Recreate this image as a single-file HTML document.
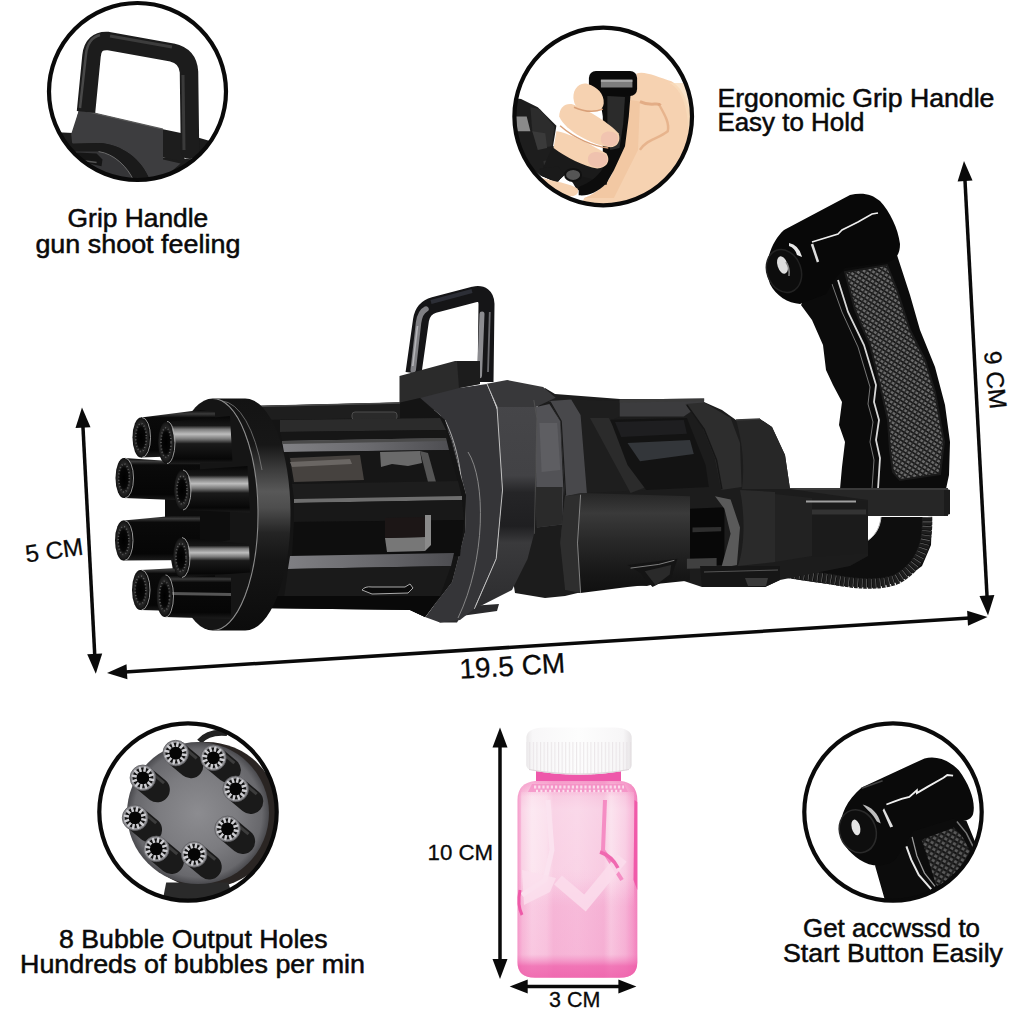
<!DOCTYPE html>
<html><head><meta charset="utf-8">
<style>
html,body{margin:0;padding:0;background:#fff;}
body{width:1024px;height:1024px;overflow:hidden;}
svg{display:block;}
text{font-family:"Liberation Sans",sans-serif;fill:#0a0a0a;}
</style></head><body>
<svg width="1024" height="1024" viewBox="0 0 1024 1024">
<defs>
<clipPath id="c1"><circle cx="137.5" cy="91.5" r="88"/></clipPath>
<clipPath id="c2"><circle cx="603.2" cy="116.5" r="88"/></clipPath>
<clipPath id="c3"><circle cx="188" cy="812" r="88"/></clipPath>
<clipPath id="c4"><circle cx="893" cy="812" r="88"/></clipPath>
</defs>
<rect width="1024" height="1024" fill="#fff"/>
<defs>
<linearGradient id="tubeG" x1="0" y1="0" x2="0" y2="1">
<stop offset="0" stop-color="#070707"/><stop offset="0.2" stop-color="#161616"/><stop offset="0.28" stop-color="#7e7e7e"/><stop offset="0.38" stop-color="#bdbdbd"/><stop offset="0.48" stop-color="#7a7a7a"/><stop offset="0.58" stop-color="#1a1a1a"/><stop offset="0.9" stop-color="#070707"/><stop offset="1" stop-color="#1c1c1c"/>
</linearGradient>
<linearGradient id="tubeD" x1="0" y1="0" x2="0" y2="1">
<stop offset="0" stop-color="#050505"/><stop offset="0.08" stop-color="#3a3a3a"/><stop offset="0.16" stop-color="#0a0a0a"/><stop offset="0.85" stop-color="#060606"/><stop offset="1" stop-color="#1c1c1c"/>
</linearGradient>
<linearGradient id="rimG" x1="0" y1="0" x2="0" y2="1">
<stop offset="0" stop-color="#131313"/><stop offset="0.2" stop-color="#171717"/><stop offset="0.3" stop-color="#3a3a3a"/><stop offset="0.4" stop-color="#585858"/><stop offset="0.47" stop-color="#4e4e4e"/><stop offset="0.58" stop-color="#242424"/><stop offset="0.7" stop-color="#151515"/><stop offset="1" stop-color="#0c0c0c"/>
</linearGradient>
<radialGradient id="mouthG" cx="0.5" cy="0.5" r="0.5">
<stop offset="0" stop-color="#000"/><stop offset="0.5" stop-color="#060606"/><stop offset="0.72" stop-color="#262626"/><stop offset="0.9" stop-color="#1a1a1a"/><stop offset="1" stop-color="#0c0c0c"/>
</radialGradient>
<pattern id="knurl" width="4.2" height="4.2" patternUnits="userSpaceOnUse" patternTransform="rotate(32)">
<rect width="4.2" height="4.2" fill="#6a6a6a"/><rect width="4.2" height="1.7" fill="#1a1a1a"/><rect width="1.5" height="4.2" fill="#262626"/>
</pattern>
</defs>

<!-- ============ GRIP HANDLE (right) ============ -->
<g id="grip">
<!-- stem -->
<path d="M801,305 L812,320 L823,345 L826,370 L833,385 L842,402 L839,425 L845,442 L842,467 L840,489 L946,489 L949,475 L950,442 L945,405 L935,367 L920,330 L910,295 L897,255 L870,250 L820,270 Z" fill="#0b0b0b"/>
<!-- knurled panel -->
<path d="M845,272 L855,310 L870,345 L880,385 L888,420 L890,450 L893,472 L900,480 L940,474 L944,442 L935,392 L925,360 L910,330 L897,290 L887,265 Z" fill="url(#knurl)"/>
<path d="M845,272 L855,310 L870,345 L880,385 L888,420 L890,450 L893,472 L900,480 L940,474 L944,442 L935,392 L925,360 L910,330 L897,290 L887,265 Z" fill="none" stroke="#1a1a1a" stroke-width="2"/>
<!-- wavy highlight -->
<path d="M838,280 L848,312 L864,345 L870,365 L876,385 L874,402 L879,420 L876,440 L880,458 L878,489" fill="none" stroke="#d8d8d8" stroke-width="1.8"/>
<path d="M832,284 L842,312 L858,347 L864,367 L870,387 L868,404 L873,422 L870,442 L874,460 L872,489" fill="none" stroke="#777" stroke-width="1"/>
<!-- cap -->
<path d="M766,270 C768,252 775,238 784,230 L850,195 C862,192 872,194 880,201 C890,212 898,228 900,244 C900,254 896,260 888,262 L845,268 L834,280 L826,294 L800,304 C788,303 776,296 770,284 Z" fill="#080808"/>
<ellipse cx="784" cy="271" rx="17" ry="22" fill="#0d0d0d" stroke="#222" stroke-width="1.5" transform="rotate(-20 784 271)"/>
<ellipse cx="782.500" cy="265" rx="5" ry="9" fill="#dedede" transform="rotate(-18 782.500 265)"/>
<path d="M786,262 Q790,268 789,276" fill="none" stroke="#888" stroke-width="1.500"/>
<path d="M789,243 Q799,245 802,257 L797,255 Q795,248 789,246 Z" fill="#e8e8e8"/>
<path d="M812,244 L818,262" stroke="#ddd" stroke-width="2.5"/>
<path d="M812,242 L838,234 L842,230 L848,227 L858,222 L872,214 L878,213" fill="none" stroke="#eee" stroke-width="1.6"/>
</g>

<!-- ============ TRIGGER BAR + lower ============ -->
<g id="bar">
<path d="M855,517 L932,517 L931,545 L922,566 L902,581 L875,588 L842,586 L800,580 L760,573 L760,566 L840,560 Z" fill="#0e0e0e"/>
<path d="M927,517 C928,545 920,566 897,579 C880,586 855,584 830,579 L775,571" fill="none" stroke="#1d1d1d" stroke-width="10.500" stroke-dasharray="3.600 0.900"/>
<path d="M927,517 C928,545 920,566 897,579 C880,586 855,584 830,579 L775,571" fill="none" stroke="#b8b8b8" stroke-width="9" stroke-dasharray="0.600 3.900" opacity="0.550"/>
<path d="M867,517 L881,517 C880,528 875,536 867,541 Z" fill="#fff"/>
<path d="M881,517 C880,528 875,536 867,541" fill="none" stroke="#bbb" stroke-width="1"/>
<rect x="788" y="488" width="160" height="28" fill="#262626"/>
<path d="M944,488 L950,490 L950,514 L944,516 Z" fill="#1c1c1c"/>
<rect x="788" y="488" width="160" height="2" fill="#3a3a3a"/>
</g>

<defs>
<linearGradient id="bodyG" x1="0" y1="0" x2="0" y2="1">
<stop offset="0" stop-color="#3a3a3a"/><stop offset="0.35" stop-color="#2a2a2a"/><stop offset="0.6" stop-color="#1a1a1a"/><stop offset="1" stop-color="#222"/>
</linearGradient>
<linearGradient id="ltubeG" x1="0" y1="0" x2="0" y2="1">
<stop offset="0" stop-color="#2c2c2c"/><stop offset="0.25" stop-color="#333"/><stop offset="0.6" stop-color="#1c1c1c"/><stop offset="1" stop-color="#0c0c0c"/>
</linearGradient>
<linearGradient id="octG" x1="0" y1="0" x2="0" y2="1">
<stop offset="0" stop-color="#3c3c3c"/><stop offset="0.4" stop-color="#353535"/><stop offset="0.52" stop-color="#1c1c1c"/><stop offset="0.68" stop-color="#1c1c1c"/><stop offset="0.8" stop-color="#2c2c2c"/><stop offset="1" stop-color="#1a1a1a"/>
</linearGradient>
</defs>
<!-- ============ REAR BODY ============ -->
<g id="rear">
<path d="M545,388 L555,394 L620,399 L704,399 L704,402 L722,410 L736,420 L760,419 L772,427 L785,455 L790,489 L868,500 L868,556 L850,566 L780,580 L765,587 L702,587 L675,578 L647,586 L620,585 L590,590 L565,596 L545,598 L515,593 L500,500 Z" fill="#1c1c1c"/>
<polygon points="571.2,399.4 619.7,400.9 619.7,416.6 608.8,421.2 627.5,465.0 646.2,490.0 586.9,493.1 580.6,415.0" fill="#1e1e1e" />
<polygon points="590.0,418.1 608.8,418.1 646.2,486.9 630.6,493.1" fill="#2b2b2b" />
<polygon points="535,407.2 549.4,404.1 560.3,421.2 563.4,490.0 561.9,524.4 536.9,527.5" fill="#525256" />
<polygon points="539.4,423 557.2,423 560.3,470.0 541.6,472" fill="#5e5e62" />
<polygon points="535.3,486.9 562.5,486.9 561.9,524.4 536.9,527.5" fill="#2a2a2a" />
<polygon points="549.4,400.9 571.2,399.4 580.6,415.0 586.9,493.1 565.0,496.2 560.3,421.2" fill="#48484b" />
<polyline points="550.0,401.6 561.2,421.2 565.6,495.6" fill="none" stroke="#1a1a1a" stroke-width="1.2"/>
<polygon points="619.7,399.4 704.1,398.4 704.1,402.5 683.8,416.6 619.7,416.6" fill="#3c3c3e" />
<polygon points="619.7,399.4 704.1,398.4 704.1,401.2 619.7,402.5" fill="#3a3a3a" />
<polygon points="610.3,419.7 686.9,418.1 705.6,465.0 708.8,486.9 646.2,490.0 627.5,465.0" fill="#131313" />
<polygon points="627.5,443.1 690.0,440.0 693.8,454.1 640.0,461.2" fill="#33363a" />
<polygon points="615.0,421.9 683.8,420.0 686.9,433.8 621.2,436.9" fill="#1e1e20" />
<polygon points="685.3,404.1 704.1,402.5 730.6,418.1 740.0,443.1 741.6,486.9 721.2,490.0 715.0,458.8 702.5,427.5" fill="#2d2d2d" />
<polyline points="686.9,405.0 704.1,429.1 716.6,460.3 721.9,489.4" fill="none" stroke="#161616" stroke-width="1.5"/>
<path d="M722,410 L736,420 L760,419 L772,427 L785,455 L790,489 L742,489 C745,465 742,440 736,420 Z" fill="#272727"/>
<path d="M736,420 L760,419" stroke="#3a3a3a" stroke-width="1.5"/>
<defs><linearGradient id="lt2" x1="0" y1="0" x2="0" y2="1"><stop offset="0" stop-color="#262626"/><stop offset="0.2" stop-color="#3a3a3a"/><stop offset="0.45" stop-color="#2a2a2a"/><stop offset="0.8" stop-color="#171717"/><stop offset="1" stop-color="#101010"/></linearGradient></defs>
<polygon points="565.0,496.2 580.6,493.1 690.0,496.2 690.0,580.6 627.5,586.9 580.6,593.1 565.0,590.0 560.3,543.1" fill="url(#lt2)" />
<polygon points="565.0,496.2 580.6,494.7 577.5,543.1 580.6,593.1 565.0,590.0 560.3,543.1" fill="#2e2e2e" />
<polyline points="580.6,494.7 577.5,543.1 580.6,593.1" fill="none" stroke="#9a9a9a" stroke-width="0.8"/>
<polygon points="690.0,508.8 724.4,507.2 724.4,565.0 690.0,566.6" fill="#080808" />
<polygon points="692.5,527.5 721.2,526.9 721.2,531.2 692.5,532.2" fill="#2e2e2e" />
<polygon points="715.0,496.2 730.6,499.4 740.0,527.5 736.9,565.0 721.2,568.1 730.6,533.8 724.4,508.8" fill="#5a5a5a" />
<polygon points="686.9,558.8 716.6,558.1 716.6,568.1 686.9,568.8" fill="#404040" />
<path d="M740,490 L775,492 L775,562 L738,566 C745,545 745,515 740,490 Z" fill="#2a2a2a"/>
<path d="M775,494 L812,498 L812,556 L775,562 Z" fill="#222"/>
<path d="M812,500 L868,502 L868,553 L812,557 Z" fill="#1b1b1b"/>
<path d="M806,501.500 L856,501.500" stroke="#a0a0a0" stroke-width="1.800"/>
<path d="M812,512 L866,512" stroke="#333" stroke-width="5"/>
<polygon points="627.5,565.0 677.5,558.8 671.2,577.5 652.5,586.9 640.0,572.8" fill="#141414" />
<polyline points="630.6,568.1 658.8,564.4 674.4,560.3" fill="none" stroke="#8a8a8a" stroke-width="0.9"/>
<polygon points="644.7,571.2 671.2,565.0 669.7,574.4 655.6,585.3" fill="#2a2a2a" />
<path d="M700,566 L780,566 L780,580 L765,587 L702,587 Z" fill="#161616"/>
<path d="M704,572 L778,570" stroke="#555" stroke-width="1"/>
<path d="M745,578 L768,578 L766,586 L748,586 Z" fill="#3a3a3a"/>
</g>

<!-- ============ OCT HOUSING ============ -->
<g id="oct">
<!-- carry handle -->
<path d="M413.500,373 L421,320 Q423,308 434,305 L474,294.500 Q486,292 486.500,304 L485.500,382" fill="none" stroke="#151517" stroke-width="16" stroke-linejoin="round"/>
<path d="M413.200,370 L418.500,323 Q420,312 426,309" fill="none" stroke="#808084" stroke-width="5.500" stroke-linecap="round"/>
<path d="M412.800,366 L417.500,326" fill="none" stroke="#b4b4b8" stroke-width="1.600"/>
<path d="M431,302 L472,291" fill="none" stroke="#2c2e36" stroke-width="4"/>
<path d="M482,314 L479.500,376" fill="none" stroke="#8c8c90" stroke-width="5" stroke-linecap="round"/>
<path d="M489.800,312 L488,372" fill="none" stroke="#6a6a6e" stroke-width="1.800"/>
<!-- block -->
<path d="M399.500,376 L455,361 L480,361 L480,384 L459,388 L459,410 L399.500,410 Z" fill="#2b2b2b"/>
<path d="M457,361 L480,361 L480,384 L459,388 Z" fill="#1c1c1c"/>
<!-- housing -->
<path d="M430,616 L440,622.500 L457,622.500 L461,616 L497,611 L499,604 L470,606 Z" fill="#2a2a2c"/>
<defs><linearGradient id="octG2" gradientUnits="userSpaceOnUse" x1="0" y1="400" x2="0" y2="610"><stop offset="0" stop-color="#464649"/><stop offset="0.36" stop-color="#424245"/><stop offset="0.44" stop-color="#252527"/><stop offset="0.6" stop-color="#1f1f21"/><stop offset="0.68" stop-color="#3a3a3c"/><stop offset="1" stop-color="#2c2c2e"/></linearGradient></defs>
<path d="M459,388 L487,384 L498,412 L502.500,490 L496,559 L474,609 L460,620 L440,622.500 L425,617 L452,582 L465,532 L466,495 L452,440 L440,415 L420,398 Z" fill="#353538"/>
<path d="M420,398 L440,415 L452,440 L466,495 L465,532 L452,582 L425,617 L410,610 L437,580 L450,532 L451,495 L438,442 L425,417 L405,402 Z" fill="#262628"/>
<polygon points="486.9,383.8 507.2,380.0 543.1,386.9 555.6,397.8 536,407 497,407" fill="#38383a" />
<polygon points="497,407 536,407 537,418 534,534 527.5,559 512,590 474.5,609 496,559 502.5,490" fill="url(#octG2)" />
<polyline points="486.9,383.8 497,407 502.5,490.0 496.2,558.8 474.4,608.8" fill="none" stroke="#c0c0c0" stroke-width="1"/>
<path d="M468,452 C486,480 486,560 458,618" fill="none" stroke="#909090" stroke-width="0.900"/>
<path d="M445,420 C470,470 472,560 425,617" fill="none" stroke="#b8b8b8" stroke-width="0.900"/>
<polyline points="533.8,400.0 536.9,418.1 534.4,533.8" fill="none" stroke="#555" stroke-width="0.8"/>
</g>

<!-- ============ CAGE ============ -->
<g id="cage">
<defs><linearGradient id="railG" gradientUnits="userSpaceOnUse" x1="285" y1="0" x2="455" y2="0"><stop offset="0" stop-color="#808084"/><stop offset="0.5" stop-color="#6a6a6e"/><stop offset="1" stop-color="#4c4c50"/></linearGradient></defs>
<path d="M250,406 L400,402.500 L420,398 L445,420 L466,495 L465,532 L452,582 L425,617 L410,610 L250,608 Z" fill="#141414"/>
<!-- top bar -->
<path d="M250,406 L400,402.500 L400,418 L250,420 Z" fill="#1e1e1e"/>
<path d="M250,406.500 L400,403" stroke="#4a4a4a" stroke-width="1.5"/>
<rect x="352" y="412" width="45" height="8" rx="3" fill="#2a2a2a" stroke="#4c4c4c" stroke-width="1"/>
<path d="M280,420 L440,418 L446,430 L280,432 Z" fill="#2b2b2b"/>
<path d="M280,432 L446,430 L449,440 L282,441 Z" fill="#161616"/>
<!-- rail 1 -->
<path d="M282,441 L446,438 L449,450 L284,452 Z" fill="url(#railG)"/>
<path d="M282,441 L446,438 L446,441 L282,444 Z" fill="#4a4a4a"/>
<!-- inner zone 1 -->
<path d="M288,452 L449,450 L458,482 L292,484 Z" fill="#161616"/>
<path d="M290,458 L360,455 L364,480 L294,482 Z" fill="#46423f"/>
<path d="M290,462 L350,459 L352,464 L292,467 Z" fill="#6a6663"/>
<path d="M380,452 L420,451 L422,463 L408,466 L392,464 L381,467 Z" fill="#6a6a6a"/>
<path d="M420,451 L428,453 L436,482 L428,482 Z" fill="#555"/>
<!-- rail 2 -->
<path d="M292,484 L458,481 L462,497 L294,499 Z" fill="#1d1d1d"/>
<path d="M294,499 L462,496 L462,500 L294,503 Z" fill="#6e6e6e"/>
<path d="M294,503 L462,500 L464,520 L294,522 Z" fill="#181818"/>
<!-- inner zone 2 -->
<path d="M294,522 L464,520 L460,556 L292,558 Z" fill="#0e0e0e"/>
<path d="M385,538 L425,537 L425,551 L387,552 Z" fill="#777"/>
<path d="M425,515 L431,515 L431,545 L425,551 Z" fill="#8a8a8a"/>
<path d="M385,518 L425,517 L425,537 L385,538 Z" fill="#1c1616"/>
<!-- rail 3 -->
<path d="M290,556 L454,553 L451,566 L288,569 Z" fill="url(#railG)"/>
<path d="M288,569 L451,566 L440,596 L284,598 Z" fill="#1a1a1a"/>
<path d="M362,590 Q365,586 372,587 L405,587 L410,584 L413,588 L408,593 L372,594 Z" fill="#0a0a0a" stroke="#aaa" stroke-width="1"/>
<path d="M250,596 L440,596 L425,617 L410,610 L250,608 Z" fill="#090909"/>
</g>

<!-- ============ FRONT DISC ============ -->
<g id="disc">
<path d="M212.750,398.500 L245.250,398.500 A45.250,116 0 0 1 245.250,630.500 L212.750,630.500 A45.250,116 0 0 0 212.750,398.500 Z" fill="url(#rimG)"/>
<ellipse cx="212.750" cy="514.500" rx="45.250" ry="116" fill="#151515"/>
<path d="M212.750,398.500 A45.250,116 0 0 1 212.750,630.500" fill="none" stroke="#8a8a8a" stroke-width="1.100"/>
<path d="M222,401 A45.250,116 0 0 1 262,470" fill="none" stroke="#8a8a8a" stroke-width="0.700"/>
</g>

<!-- ============ BARRELS ============ -->
<g id="barrels">
<!-- hub -->
<path d="M165,498 L200,492 L230,500 L230,540 L200,545 L165,520 Z" fill="#0d0d0d"/>
<!-- A top back -->
<path d="M141,417.500 L200,410 L215,412 L215,455 L141,457.500 Z" fill="url(#tubeD)"/>
<ellipse cx="141" cy="437.500" rx="8.500" ry="20" fill="url(#mouthG)"/>
<ellipse cx="141.0" cy="437.5" rx="5.3" ry="14.0" fill="none" stroke="#6a6a6a" stroke-width="1.6" stroke-dasharray="1 2.2" opacity="0.8"/>
<path d="M142.0,417.5 A8.5,20.0 0 0 1 142.0,457.5" fill="none" stroke="#b0b0b0" stroke-width="1" opacity="0.85"/>
<!-- G bottom back -->
<path d="M140.500,570 L215,566 L215,612 L140.500,610 Z" fill="url(#tubeD)"/>
<ellipse cx="140.500" cy="590" rx="8.500" ry="20" fill="url(#mouthG)"/>
<ellipse cx="140.5" cy="590.0" rx="5.3" ry="14.0" fill="none" stroke="#6a6a6a" stroke-width="1.6" stroke-dasharray="1 2.2" opacity="0.8"/>
<path d="M141.5,570.0 A8.5,20.0 0 0 1 141.5,610.0" fill="none" stroke="#b0b0b0" stroke-width="1" opacity="0.85"/>
<!-- C left 2 -->
<path d="M124,458 L200,463 L200,501 L124,498 Z" fill="url(#tubeD)"/>
<ellipse cx="124" cy="478" rx="8.500" ry="20" fill="url(#mouthG)"/>
<ellipse cx="124.0" cy="478.0" rx="5.3" ry="14.0" fill="none" stroke="#6a6a6a" stroke-width="1.6" stroke-dasharray="1 2.2" opacity="0.8"/>
<path d="M125.0,458.0 A8.5,20.0 0 0 1 125.0,498.0" fill="none" stroke="#b0b0b0" stroke-width="1" opacity="0.85"/>
<!-- E left 3 -->
<path d="M123.500,520.500 L182.500,515 L200,515 L200,560 L123.500,560.500 Z" fill="url(#tubeD)"/>
<ellipse cx="123.500" cy="540.500" rx="8.500" ry="20" fill="url(#mouthG)"/>
<ellipse cx="123.5" cy="540.5" rx="5.3" ry="14.0" fill="none" stroke="#6a6a6a" stroke-width="1.6" stroke-dasharray="1 2.2" opacity="0.8"/>
<path d="M124.5,520.5 A8.5,20.0 0 0 1 124.5,560.5" fill="none" stroke="#b0b0b0" stroke-width="1" opacity="0.85"/>
<!-- B top front -->
<path d="M165.500,422 L230,416 L232.500,462.500 L165.500,463.750 Z" fill="url(#tubeG)"/>
<ellipse cx="166" cy="442.500" rx="8" ry="21" fill="url(#mouthG)"/>
<ellipse cx="166.0" cy="442.5" rx="5.0" ry="14.7" fill="none" stroke="#6a6a6a" stroke-width="1.6" stroke-dasharray="1 2.2" opacity="0.8"/>
<path d="M167.0,421.5 A8.0,21.0 0 0 1 167.0,463.5" fill="none" stroke="#b0b0b0" stroke-width="1" opacity="0.85"/>
<!-- H bottom front -->
<path d="M164.500,575.500 L231,577.500 L231,619 L164.500,617 Z" fill="url(#tubeD)"/>
<path d="M170,592 L231,593 L231,596 L170,595 Z" fill="#555"/>
<ellipse cx="164.500" cy="596" rx="8" ry="21" fill="url(#mouthG)"/>
<ellipse cx="164.5" cy="596.0" rx="5.0" ry="14.7" fill="none" stroke="#6a6a6a" stroke-width="1.6" stroke-dasharray="1 2.2" opacity="0.8"/>
<path d="M165.5,575.0 A8.0,21.0 0 0 1 165.5,617.0" fill="none" stroke="#b0b0b0" stroke-width="1" opacity="0.85"/>
<!-- D right 2 -->
<path d="M182.500,470.500 L247.500,466 L250,512.500 L182.500,510 Z" fill="url(#tubeG)"/>
<ellipse cx="182" cy="490" rx="8" ry="20" fill="url(#mouthG)"/>
<ellipse cx="182.0" cy="490.0" rx="5.0" ry="14.0" fill="none" stroke="#6a6a6a" stroke-width="1.6" stroke-dasharray="1 2.2" opacity="0.8"/>
<path d="M183.0,470.0 A8.0,20.0 0 0 1 183.0,510.0" fill="none" stroke="#b0b0b0" stroke-width="1" opacity="0.85"/>
<!-- F right 3 -->
<path d="M181,537.500 L249,544 L250,572.500 L181,577.500 Z" fill="url(#tubeG)"/>
<ellipse cx="181" cy="557.500" rx="8" ry="20" fill="url(#mouthG)"/>
<ellipse cx="181.0" cy="557.5" rx="5.0" ry="14.0" fill="none" stroke="#6a6a6a" stroke-width="1.6" stroke-dasharray="1 2.2" opacity="0.8"/>
<path d="M182.0,537.5 A8.0,20.0 0 0 1 182.0,577.5" fill="none" stroke="#b0b0b0" stroke-width="1" opacity="0.85"/>
</g>

<g id="circ1">
<circle cx="137.500" cy="91.500" r="88.500" fill="#fff"/>
<g clip-path="url(#c1)">
<!-- dark body under block -->
<path d="M51.7,132.1 L73.2,133.1 79.1,109.6 163.0,129.2 163.0,157.5 196.2,159.5 209.9,139.9 215.8,141.9 215.8,196.6 51.7,196.6 Z" fill="#1c1c1c"/>
<path d="M79.1,109.6 L163.0,129.2 163.0,159.5 180.6,163.4 165.0,177.0 149.4,179.0 C141.6,159.5 122.0,143.8 98.6,142.9 L72.2,143.8 71.2,134.1 Z" fill="#3d3d3f"/>
<polyline points="79.1,109.6 163.0,129.2" fill="none" stroke="#5a5a5a" stroke-width="1.2"/>
<polygon points="163.0,129.2 184.5,133.7 184.5,161.4 163.0,157.5" fill="#1d1d1d"/>
<path d="M61.5,137.0 L73.2,143.8 98.6,142.9 C122.0,143.8 141.6,159.5 149.4,179.0 L133.8,180.9 C127.9,167.3 114.2,153.6 98.6,151.6 L75.2,151.6 61.5,145.8 Z" fill="#1a1a1a"/>
<path d="M75.2,151.6 L98.6,151.6 C114.2,153.6 127.9,167.3 133.8,180.9 L79.1,182.9 63.4,159.5 Z" fill="#353537"/>
<path d="M98.6,151.6 C114.2,153.6 127.9,167.3 133.8,180.9" fill="none" stroke="#6a6a6a" stroke-width="1"/>
<path d="M77.1,152.6 L96.6,153.6 102.5,159.5 101.5,166.3 88.8,163.4 77.1,157.5 Z" fill="#151515"/>
<polyline points="82.0,160.4 96.6,162.4" fill="none" stroke="#555" stroke-width="1.5"/>
<polygon points="196.2,137.0 209.9,140.9 208.0,153.6 196.2,159.5" fill="#1b1b1b"/>
<!-- handle loop -->
<path d="M180.800,140 L180.800,152 Q181,159 190,159 Q199,159 199.200,152 L199.200,140 Z" fill="#1c1c1c"/>
<path d="M86,112 L91.500,56 Q93,40 108,41 L172,52.500 Q188,56 189,72 L190,150" fill="none" stroke="#1c1c1c" stroke-width="18.500" stroke-linejoin="round"/>
<path d="M80,108 L86,54 Q88,38 100,35" fill="none" stroke="#484848" stroke-width="2.500"/>
<path d="M110,36 L172,47" fill="none" stroke="#3c3c3c" stroke-width="3"/>
<path d="M183,75 L184,150" fill="none" stroke="#3a3a3a" stroke-width="3"/>
</g>
<circle cx="137.500" cy="91.500" r="88.500" fill="none" stroke="#0a0a0a" stroke-width="4.2"/>
</g>

<g id="circ2">
<circle cx="603.2" cy="116.5" r="88.8" fill="#fff"/>
<g clip-path="url(#c2)">
<path d="M628.8,97.9 C632.5,90.5 638.0,81.2 636.2,73.8 C643.6,70.1 658.4,77.5 671.4,81.2 C684.4,88.7 691.8,109.1 691.8,131.3 L691.8,207.4 580.5,207.4 584.2,198.1 C597.2,192.6 610.2,183.3 613.9,168.4 L625.0,131.3 Z" fill="#f6d2b1"/>
<path d="M658.4,103.5 C665.9,116.5 669.6,123.9 667.7,131.3 C658.4,138.8 647.3,138.8 639.9,149.9" fill="none" stroke="#e3ad84" stroke-width="2.5" opacity="0.8"/>
<path d="M639.9,101.6 C651.0,107.2 658.4,101.6 660.3,105.4" fill="none" stroke="#dfa47c" stroke-width="3" opacity="0.8"/>
<path d="M669.6,83.1 C682.6,90.5 688.1,109.1 688.1,131.3 L688.1,168.4 693.7,168.4 693.7,83.1 Z" fill="#f9dcbc" opacity="0.8"/>
<path d="M628.8,99.8 L639.9,101.6 638.0,149.9 613.9,198.1 584.2,198.1 C597.2,192.6 610.2,183.3 613.9,168.4 Z" fill="#eebf98" opacity="0.55"/>
<path d="M510.0,97.9 L521.1,98.9 537.8,107.2 556.4,125.8 553.0,146.2 565.7,155.4 606.5,174.0 602.8,184.2 565.7,174.0 556.4,182.4 539.7,174.9 510.0,149.9 Z" fill="#1d1d1d"/>
<path d="M515.6,116.5 L526.7,116.5 530.4,131.3 517.4,131.3 Z" fill="#8a8a8a"/>
<path d="M530.4,107.2 L539.7,109.1 554.5,126.7 551.7,146.2 539.7,148.0 532.3,131.3 Z" fill="#2c2c2c"/>
<path d="M532.3,131.3 L545.3,133.2 547.1,148.0 537.8,149.9 Z" fill="#3a3a3a"/>
<path d="M543.4,161.0 L565.7,157.3 602.8,175.9 600.9,182.4 563.8,172.1 558.2,179.6 545.3,174.0 Z" fill="#303030"/>
<path d="M552.7,146.2 L611.1,164.7 606.5,185.1 565.7,174.0 556.4,182.4 539.7,174.9 Z" fill="#1a1a1a"/>
<path d="M563.8,172.1 L593.5,179.6 584.2,191.6 576.8,189.8 573.1,183.3 Z" fill="#161616"/>
<path d="M599.1,92.4 L630.6,94.2 628.8,116.5 625.0,146.2 613.9,170.3 606.5,183.3 C597.2,192.6 587.9,196.3 578.7,195.3 L578.7,187.0 C587.9,183.3 597.2,177.7 602.8,168.4 L602.8,116.5 Z" fill="#0c0c0c"/>
<path d="M607.4,96.1 L625.0,97.0 623.2,123.9 619.5,148.0 610.2,149.9 607.4,123.9 Z" fill="#2b2b2b"/>
<ellipse cx="573.1" cy="174.9" rx="8" ry="6" fill="#555" stroke="#111" stroke-width="2"/>
<rect x="588.9" y="71.0" width="48.2" height="25.0" rx="7" fill="#0a0a0a"/>
<rect x="600.9" y="79.7" width="31.5" height="7.8" fill="#7d7d7d"/>
<rect x="600.9" y="79.7" width="31.5" height="2.2" fill="#aaa"/>
<path d="M574.0,101.6 C571.2,90.5 578.7,81.2 587.9,84.0 C597.2,86.8 604.6,94.2 603.7,103.5 C602.8,110.9 595.4,112.8 587.9,110.9 C580.5,109.1 574.9,107.2 574.0,101.6" fill="#f6d2b1"/>
<path d="M559.2,116.5 C559.2,107.2 565.7,102.6 573.1,104.4 C587.9,109.1 610.2,123.9 618.5,133.2 C621.3,140.6 617.6,148.0 608.3,147.1 C591.6,144.3 565.7,131.3 559.2,116.5" fill="#f6d2b1"/>
<path d="M600.9,138.8 C600.9,131.3 610.2,129.5 616.7,134.1 C620.4,140.6 616.7,147.1 608.3,146.2 C602.8,145.2 600.5,142.5 600.9,138.8" fill="#f1c4b0"/>
<path d="M556.4,131.3 C565.7,131.3 593.5,146.2 606.5,153.6 C611.1,161.0 606.5,168.4 597.2,168.4 C584.2,166.6 565.7,157.3 553.6,148.0 Z" fill="#f6d2b1"/>
<path d="M587.9,159.2 C587.9,151.7 597.2,149.9 605.6,154.5 C610.2,161.0 605.6,167.5 597.2,167.5 C590.7,166.6 587.6,162.9 587.9,159.2" fill="#efc2ae"/>
<path d="M574.0,107.2 C584.2,111.8 593.5,112.8 602.8,109.1" fill="none" stroke="#d9a078" stroke-width="1.5"/>
<path d="M560.1,125.8 C574.9,138.8 593.5,146.2 608.3,148.0" fill="none" stroke="#d9a078" stroke-width="1.5"/>
<path d="M541.5,177.7 C552.7,181.4 571.2,183.3 577.7,188.8 C579.6,194.4 574.9,197.2 565.7,196.3 C554.5,193.5 545.3,187.0 541.5,177.7" fill="#f6d2b1"/>
<path d="M539.7,168.4 L558.2,166.6 563.8,174.0 558.2,181.8 541.5,175.9 Z" fill="#1a1a1a"/>
</g>
<circle cx="603.2" cy="116.5" r="88.8" fill="none" stroke="#0a0a0a" stroke-width="4.2"/>
</g>

<g id="circ3">
<circle cx="188" cy="812" r="88.7" fill="#fff"/>
<g clip-path="url(#c3)">
<path d="M199.5,741.7 Q208.1,731.2 227.1,733.1" fill="none" stroke="#222" stroke-width="6"/>
<circle cx="206.2" cy="815.0" r="73" fill="#2a2523"/>
<path d="M166.2,882.6 L228.2,882.6 L236.2,907.6 L161.2,907.6 Z" fill="#2a2a2a"/>
<defs><radialGradient id="dfG" cx="0.5" cy="0.5" r="0.5"><stop offset="0" stop-color="#8c8c90"/><stop offset="0.55" stop-color="#7c7c80"/><stop offset="0.9" stop-color="#68686c"/><stop offset="1" stop-color="#4a4a4e"/></radialGradient></defs>
<circle cx="198.0" cy="813.1" r="71" fill="url(#dfG)"/>
<path d="M167.6,762.8 L182.6,775.3 A12.6,12.6 0 0 0 198.8,755.9 L183.8,743.4 Z" fill="#1a1a1a"/>
<path d="M181.7,745.8 L196.7,758.3" stroke="#3c3c3c" stroke-width="3"/>
<path d="M205.3,767.5 L220.3,780.0 A12.6,12.6 0 0 0 236.5,760.7 L221.5,748.2 Z" fill="#1a1a1a"/>
<path d="M219.4,750.6 L234.4,763.1" stroke="#3c3c3c" stroke-width="3"/>
<path d="M227.6,798.6 L242.6,811.1 A12.6,12.6 0 0 0 258.7,791.7 L243.7,779.2 Z" fill="#1a1a1a"/>
<path d="M241.7,781.6 L256.7,794.1" stroke="#3c3c3c" stroke-width="3"/>
<path d="M219.4,838.6 L234.4,851.1 A12.6,12.6 0 0 0 250.6,831.7 L235.6,819.2 Z" fill="#1a1a1a"/>
<path d="M233.5,821.6 L248.5,834.1" stroke="#3c3c3c" stroke-width="3"/>
<path d="M186.1,864.1 L201.1,876.6 A12.6,12.6 0 0 0 217.2,857.2 L202.2,844.7 Z" fill="#1a1a1a"/>
<path d="M200.2,847.1 L215.2,859.6" stroke="#3c3c3c" stroke-width="3"/>
<path d="M148.2,858.6 L163.2,871.1 A12.6,12.6 0 0 0 179.3,851.7 L164.3,839.2 Z" fill="#1a1a1a"/>
<path d="M162.3,841.6 L177.3,854.1" stroke="#3c3c3c" stroke-width="3"/>
<path d="M127.1,827.5 L142.1,840.0 A12.6,12.6 0 0 0 158.2,820.7 L143.2,808.2 Z" fill="#1a1a1a"/>
<path d="M141.2,810.6 L156.2,823.1" stroke="#3c3c3c" stroke-width="3"/>
<path d="M134.9,787.5 L149.9,800.0 A12.6,12.6 0 0 0 166.0,780.7 L151.0,768.2 Z" fill="#1a1a1a"/>
<path d="M149.0,770.6 L164.0,783.1" stroke="#3c3c3c" stroke-width="3"/>
<circle cx="175.7" cy="753.1" r="12.8" fill="#8e8e92" stroke="#5a5a5e" stroke-width="0.8"/>
<circle cx="175.7" cy="753.1" r="10.3" fill="#111"/>
<path d="M182.2,754.4 L185.8,755.1 M180.6,757.5 L183.4,759.9 M177.8,759.3 L179.0,762.9 M174.4,759.6 L173.6,763.2 M171.3,758.0 L168.9,760.8 M169.4,755.2 L165.9,756.4 M169.2,751.8 L165.6,751.0 M170.7,748.7 L168.0,746.3 M173.6,746.8 L172.4,743.3 M177.0,746.6 L177.7,743.0 M180.1,748.1 L182.5,745.4 M182.0,751.0 L185.5,749.8" stroke="#cdcdd1" stroke-width="2.5" stroke-linecap="round"/>
<circle cx="175.7" cy="753.1" r="6.4" fill="#050505"/>
<circle cx="213.4" cy="757.8" r="12.8" fill="#8e8e92" stroke="#5a5a5e" stroke-width="0.8"/>
<circle cx="213.4" cy="757.8" r="10.3" fill="#111"/>
<path d="M219.9,759.2 L223.5,759.9 M218.3,762.2 L221.1,764.7 M215.5,764.1 L216.7,767.6 M212.1,764.3 L211.4,767.9 M209.0,762.8 L206.6,765.6 M207.1,759.9 L203.6,761.1 M206.9,756.5 L203.3,755.8 M208.5,753.5 L205.7,751.0 M211.3,751.6 L210.1,748.1 M214.7,751.4 L215.4,747.8 M217.8,752.9 L220.2,750.1 M219.7,755.7 L223.2,754.6" stroke="#cdcdd1" stroke-width="2.5" stroke-linecap="round"/>
<circle cx="213.4" cy="757.8" r="6.4" fill="#050505"/>
<circle cx="235.7" cy="788.9" r="12.8" fill="#8e8e92" stroke="#5a5a5e" stroke-width="0.8"/>
<circle cx="235.7" cy="788.9" r="10.3" fill="#111"/>
<path d="M242.1,790.2 L245.8,790.9 M240.6,793.3 L243.4,795.7 M237.8,795.1 L239.0,798.7 M234.4,795.4 L233.6,799.0 M231.3,793.8 L228.9,796.6 M229.4,791.0 L225.9,792.2 M229.2,787.6 L225.6,786.8 M230.7,784.5 L228.0,782.1 M233.6,782.6 L232.4,779.1 M237.0,782.4 L237.7,778.8 M240.0,783.9 L242.5,781.2 M241.9,786.8 L245.4,785.6" stroke="#cdcdd1" stroke-width="2.5" stroke-linecap="round"/>
<circle cx="235.7" cy="788.9" r="6.4" fill="#050505"/>
<circle cx="227.5" cy="828.9" r="12.8" fill="#8e8e92" stroke="#5a5a5e" stroke-width="0.8"/>
<circle cx="227.5" cy="828.9" r="10.3" fill="#111"/>
<path d="M234.0,830.2 L237.6,830.9 M232.4,833.2 L235.2,835.7 M229.6,835.1 L230.8,838.6 M226.2,835.3 L225.4,839.0 M223.1,833.8 L220.7,836.6 M221.2,831.0 L217.7,832.2 M221.0,827.6 L217.4,826.8 M222.5,824.5 L219.8,822.1 M225.4,822.6 L224.2,819.1 M228.8,822.4 L229.5,818.8 M231.9,823.9 L234.3,821.2 M233.7,826.8 L237.3,825.6" stroke="#cdcdd1" stroke-width="2.5" stroke-linecap="round"/>
<circle cx="227.5" cy="828.9" r="6.4" fill="#050505"/>
<circle cx="194.2" cy="854.4" r="12.8" fill="#8e8e92" stroke="#5a5a5e" stroke-width="0.8"/>
<circle cx="194.2" cy="854.4" r="10.3" fill="#111"/>
<path d="M200.6,855.7 L204.3,856.4 M199.1,858.8 L201.9,861.2 M196.3,860.7 L197.4,864.2 M192.9,860.9 L192.1,864.5 M189.8,859.3 L187.3,862.1 M187.9,856.5 L184.4,857.7 M187.7,853.1 L184.1,852.3 M189.2,850.0 L186.4,847.6 M192.1,848.1 L190.9,844.6 M195.5,847.9 L196.2,844.3 M198.5,849.4 L201.0,846.7 M200.4,852.3 L203.9,851.1" stroke="#cdcdd1" stroke-width="2.5" stroke-linecap="round"/>
<circle cx="194.2" cy="854.4" r="6.4" fill="#050505"/>
<circle cx="156.3" cy="848.9" r="12.8" fill="#8e8e92" stroke="#5a5a5e" stroke-width="0.8"/>
<circle cx="156.3" cy="848.9" r="10.3" fill="#111"/>
<path d="M162.7,850.2 L166.4,850.9 M161.2,853.2 L164.0,855.7 M158.4,855.1 L159.5,858.6 M155.0,855.3 L154.2,859.0 M151.9,853.8 L149.5,856.6 M150.0,851.0 L146.5,852.1 M149.8,847.6 L146.2,846.8 M151.3,844.5 L148.6,842.1 M154.2,842.6 L153.0,839.1 M157.6,842.4 L158.3,838.8 M160.6,843.9 L163.1,841.2 M162.5,846.8 L166.0,845.6" stroke="#cdcdd1" stroke-width="2.5" stroke-linecap="round"/>
<circle cx="156.3" cy="848.9" r="6.4" fill="#050505"/>
<circle cx="135.1" cy="817.8" r="12.8" fill="#8e8e92" stroke="#5a5a5e" stroke-width="0.8"/>
<circle cx="135.1" cy="817.8" r="10.3" fill="#111"/>
<path d="M141.6,819.1 L145.2,819.9 M140.1,822.2 L142.9,824.7 M137.2,824.1 L138.4,827.6 M133.8,824.3 L133.1,827.9 M130.8,822.8 L128.3,825.6 M128.9,819.9 L125.4,821.1 M128.7,816.5 L125.0,815.8 M130.2,813.5 L127.4,811.0 M133.0,811.6 L131.9,808.1 M136.4,811.4 L137.2,807.7 M139.5,812.9 L142.0,810.1 M141.4,815.7 L144.9,814.6" stroke="#cdcdd1" stroke-width="2.5" stroke-linecap="round"/>
<circle cx="135.1" cy="817.8" r="6.4" fill="#050505"/>
<circle cx="142.9" cy="777.8" r="12.8" fill="#8e8e92" stroke="#5a5a5e" stroke-width="0.8"/>
<circle cx="142.9" cy="777.8" r="10.3" fill="#111"/>
<path d="M149.4,779.2 L153.0,779.9 M147.9,782.2 L150.7,784.7 M145.0,784.1 L146.2,787.6 M141.6,784.3 L140.9,787.9 M138.6,782.8 L136.1,785.6 M136.7,779.9 L133.2,781.1 M136.5,776.5 L132.8,775.8 M138.0,773.5 L135.2,771.0 M140.8,771.6 L139.7,768.1 M144.3,771.4 L145.0,767.7 M147.3,772.9 L149.8,770.1 M149.2,775.7 L152.7,774.6" stroke="#cdcdd1" stroke-width="2.5" stroke-linecap="round"/>
<circle cx="142.9" cy="777.8" r="6.4" fill="#050505"/>
</g>
<circle cx="188" cy="812" r="88.7" fill="none" stroke="#0a0a0a" stroke-width="4.2"/>
</g>

<g id="circ4">
<circle cx="893" cy="812" r="88.7" fill="#fff"/>
<g clip-path="url(#c4)">
<path d="M875.0,865.4 L901.6,848.3 913.1,829.3 953.1,817.8 966.4,820.7 977.8,848.3 985.4,867.3 947.3,905.4 886.4,905.4 Z" fill="#0c0c0c"/>
<path d="M921.6,839.7 L954.0,827.4 962.6,836.9 971.1,853.1 973.1,863.5 939.7,887.3 935.9,884.5 928.3,859.7 Z" fill="url(#knurl4)"/>
<defs><pattern id="knurl4" width="5" height="5" patternUnits="userSpaceOnUse" patternTransform="rotate(30)"><rect width="5" height="5" fill="#5a5a5a"/><rect width="5" height="2.2" fill="#161616"/><rect width="2" height="5" fill="#222"/></pattern></defs>
<path d="M906.4,846.4 L911.2,859.7 918.8,875.0 931.2,889.2" fill="none" stroke="#e8e8e8" stroke-width="2"/>
<path d="M912.1,836.9 L916.9,855.9 924.5,873.1 935.0,886.4" fill="none" stroke="#9a9a9a" stroke-width="1.3"/>
<path d="M956.9,821.6 L966.4,833.1 974.0,848.3" fill="none" stroke="#777" stroke-width="1.5"/>
<path d="M839.8,829.3 C840.7,814.0 846.4,800.7 861.7,787.4 L924.5,758.4 C935.9,755.9 947.3,758.8 958.8,770.2 C970.2,785.5 975.9,802.6 973.1,814.0 C970.2,821.6 962.6,821.6 953.1,818.8 L913.1,831.2 C907.4,840.7 901.6,852.1 894.0,860.7 C884.5,867.3 871.2,867.3 859.7,859.7 C848.3,852.1 840.7,842.6 839.8,829.3" fill="#0a0a0a"/>
<ellipse cx="857.8" cy="831.2" rx="18.1" ry="21.9" fill="#0e0e0e" stroke="#2a2a2a" stroke-width="1.5" transform="rotate(-20 857.8 831.2)"/>
<ellipse cx="855.9" cy="827.4" rx="4.2" ry="8.0" fill="#e4e4e4" transform="rotate(-15 855.9 827.4)"/>
<path d="M862.6,804.5 C871.2,806.4 878.8,814.0 880.7,823.5 L876.9,821.6 C873.1,814.0 867.4,810.2 862.6,804.5" fill="#bdbdbd"/>
<path d="M884.1,808.3 L893.1,826.4 890.2,827.4 882.6,810.2 Z" fill="#e0e0e0"/>
<path d="M886.4,804.5 L894.0,801.6 901.6,798.8 909.3,796.9 916.9,790.2 916.9,793.1 928.3,786.4 943.5,777.8 947.3,775.0 953.1,775.6" fill="none" stroke="#f0f0f0" stroke-width="1.8"/>
<path d="M861.7,788.3 L882.6,780.7" fill="none" stroke="#444" stroke-width="1.5"/>
</g>
<circle cx="893" cy="812" r="88.7" fill="none" stroke="#0a0a0a" stroke-width="4.2"/>
</g>

<g id="bottle">
<defs>
<linearGradient id="botG" x1="0" y1="0" x2="1" y2="0">
<stop offset="0" stop-color="#f59aca"/><stop offset="0.04" stop-color="#f8c4dd"/><stop offset="0.12" stop-color="#fbdfec"/><stop offset="0.24" stop-color="#fad6e7"/><stop offset="0.3" stop-color="#f7c2dc"/><stop offset="0.5" stop-color="#f8c8e0"/><stop offset="0.72" stop-color="#f6bcd9"/><stop offset="0.78" stop-color="#fad8e8"/><stop offset="0.9" stop-color="#f7bedb"/><stop offset="0.96" stop-color="#f59cca"/><stop offset="1" stop-color="#f27cba"/>
</linearGradient>
<linearGradient id="botB" x1="0" y1="0" x2="0" y2="1">
<stop offset="0" stop-color="#f36fb4" stop-opacity="0.5"/><stop offset="0.08" stop-color="#f36fb4" stop-opacity="0"/><stop offset="0.45" stop-color="#f38cc4" stop-opacity="0"/><stop offset="0.6" stop-color="#f38cc4" stop-opacity="0.22"/><stop offset="0.88" stop-color="#f38cc4" stop-opacity="0.28"/><stop offset="0.94" stop-color="#ee5aa8" stop-opacity="0.75"/><stop offset="1" stop-color="#ee5aa8" stop-opacity="0.85"/>
</linearGradient>
<linearGradient id="capG" x1="0" y1="0" x2="1" y2="0">
<stop offset="0" stop-color="#ebe9ea"/><stop offset="0.06" stop-color="#f8f7f8"/><stop offset="0.5" stop-color="#fdfdfd"/><stop offset="0.92" stop-color="#f7f6f7"/><stop offset="1" stop-color="#e6e3e5"/>
</linearGradient>
<pattern id="ridge" width="3.6" height="10" patternUnits="userSpaceOnUse"><rect width="3.6" height="10" fill="none"/><rect x="0" width="1.1" height="10" fill="#e4dfe2" opacity="0.7"/></pattern>
</defs>
<!-- neck -->
<path d="M536,768 L621,768 L621,783 L536,783 Z" fill="#ee58aa"/>
<!-- body -->
<path d="M517.500,800 Q517.500,783 535,781 L621,781 Q637.300,783 637.300,800 L637.300,962 Q637.300,977.800 620,977.800 L535,977.800 Q517.500,977.800 517.500,962 Z" fill="url(#botG)"/>
<path d="M517.500,800 Q517.500,783 535,781 L621,781 Q637.300,783 637.300,800 L637.300,962 Q637.300,977.800 620,977.800 L535,977.800 Q517.500,977.800 517.500,962 Z" fill="url(#botB)"/>
<!-- inner facets -->
<defs><linearGradient id="botW" x1="0" y1="0" x2="0" y2="1"><stop offset="0" stop-color="#fff" stop-opacity="0.1"/><stop offset="0.15" stop-color="#fff" stop-opacity="0.3"/><stop offset="0.75" stop-color="#fff" stop-opacity="0.22"/><stop offset="1" stop-color="#fff" stop-opacity="0"/></linearGradient></defs>
<rect x="521" y="792" width="113" height="115" fill="url(#botW)"/>
<path d="M634.500,800 L637.300,802 L637.300,890 L633.500,880 Z" fill="#f05aa9"/>
<path d="M548,800 L552,850 L545,880 L522,895" fill="none" stroke="#fbe3ef" stroke-width="5" opacity="0.9"/>
<path d="M605,800 L603,850 L622,880" fill="none" stroke="#f47cbc" stroke-width="4" opacity="0.8"/>
<path d="M558,880 L585,903 L622,858" fill="none" stroke="#fbdceb" stroke-width="12" stroke-linejoin="miter" opacity="0.9"/>
<path d="M522,870 L556,878 L550,892 L524,905 Z" fill="#fbe0ee" opacity="0.8"/>
<path d="M520,890 Q517,905 522,915" fill="none" stroke="#ee5aa8" stroke-width="3"/>
<path d="M600,852 Q612,856 618,868" fill="none" stroke="#f068b0" stroke-width="3.500"/>
<!-- bubbles under cap -->
<path d="M532,784 L624,784 L628,792 L528,792 Z" fill="#f48ec4" opacity="0.75"/>
<path d="M534,787 L624,787" stroke="#fbd9ea" stroke-width="3" stroke-dasharray="2.200 2"/>
<path d="M536,791 L622,791" stroke="#fbe3ef" stroke-width="2.500" stroke-dasharray="2 2.400"/>
<!-- cap -->
<path d="M526.400,738 Q526.400,728 544,727.500 L614,727.500 Q631.700,728 631.700,738 L631.700,765 Q631.700,769 626,770.500 Q579,779 532,770.500 Q526.400,769 526.400,765 Z" fill="url(#capG)"/>
<path d="M526.400,742 L631.700,742 L631.700,765 Q631.700,769 626,770.500 Q579,779 532,770.500 Q526.400,769 526.400,765 Z" fill="url(#ridge)"/>
<path d="M529,769.500 Q579,778.500 629,769.500" fill="none" stroke="#ddd6da" stroke-width="1.200"/>
</g>

<g id="arrows" stroke="#0a0a0a" stroke-width="3.5" fill="#0a0a0a">
<line x1="82.9" y1="425.6" x2="94.8" y2="655.8" stroke-width="3.5"/>
<polygon stroke="none" points="82.0,407.6 75.5,428.0 90.5,427.2"/>
<polygon stroke="none" points="95.8,673.8 87.2,654.2 102.2,653.4"/>
<line x1="125.0" y1="671.9" x2="969.5" y2="618.1" stroke-width="3.5"/>
<polygon stroke="none" points="107.0,673.0 127.4,679.2 126.5,664.2"/>
<polygon stroke="none" points="987.5,617.0 968.0,625.8 967.1,610.8"/>
<line x1="964.9" y1="179.0" x2="987.1" y2="597.5" stroke-width="3.5"/>
<polygon stroke="none" points="964.0,161.0 957.6,181.4 972.5,180.6"/>
<polygon stroke="none" points="988.0,615.5 979.5,595.9 994.4,595.1"/>
<line x1="500.0" y1="745.5" x2="500.0" y2="961.0" stroke-width="3.5"/>
<polygon stroke="none" points="500.0,727.5 492.5,747.5 507.5,747.5"/>
<polygon stroke="none" points="500.0,979.0 492.5,959.0 507.5,959.0"/>
<line x1="525.7" y1="986.5" x2="620.4" y2="986.5" stroke-width="3.5"/>
<polygon stroke="none" points="509.7,986.5 527.7,993.5 527.7,979.5"/>
<polygon stroke="none" points="636.4,986.5 618.4,993.5 618.4,979.5"/>
</g>
<g id="texts">
<g stroke="#0a0a0a" stroke-width="0.5">
<text x="67.6" y="227.3" font-size="25" textLength="140.7" lengthAdjust="spacingAndGlyphs">Grip Handle</text>
<text x="35.4" y="252.8" font-size="25" textLength="205" lengthAdjust="spacingAndGlyphs">gun shoot feeling</text>
<text x="717.4" y="106.9" font-size="25" textLength="277" lengthAdjust="spacingAndGlyphs">Ergonomic Grip Handle</text>
<text x="717.4" y="131.4" font-size="25" textLength="147" lengthAdjust="spacingAndGlyphs">Easy to Hold</text>
<text x="59" y="947.5" font-size="25" textLength="268.5" lengthAdjust="spacingAndGlyphs">8 Bubble Output Holes</text>
<text x="20" y="972.5" font-size="25" textLength="345" lengthAdjust="spacingAndGlyphs">Hundreds of bubbles per min</text>
<text x="803" y="937" font-size="25" textLength="177" lengthAdjust="spacingAndGlyphs">Get accwssd to</text>
<text x="783" y="961.5" font-size="25" textLength="220" lengthAdjust="spacingAndGlyphs">Start Button Easily</text>
</g>
<g stroke="#0a0a0a" stroke-width="0.3">
<text x="427.5" y="860" font-size="22.3">10 CM</text>
<text x="549" y="1007" font-size="21.5">3 CM</text>
<text transform="translate(460 678.75) rotate(-3.4)" font-size="28">19.5 CM</text>
<text transform="translate(26.6 562.5) rotate(-7.8)" font-size="24.3">5 CM</text>
<text transform="translate(983.9 352) rotate(83.7)" font-size="24.3">9 CM</text>
</g>
</g>

</svg>
</body></html>
